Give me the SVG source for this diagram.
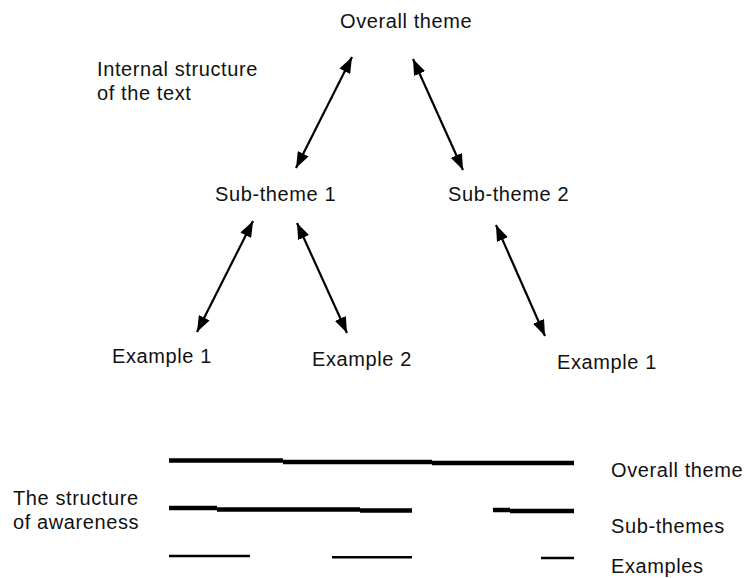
<svg xmlns="http://www.w3.org/2000/svg" width="744" height="578" viewBox="0 0 744 578">
<defs>
<style>
text{font-family:"Liberation Sans",Arial,sans-serif;font-size:20px;letter-spacing:0.6px;fill:#111}
.c{stroke:#000;stroke-width:2.2;fill:none;marker-start:url(#a);marker-end:url(#a)}
.thick{stroke:#000;stroke-width:4.5;fill:none}
.thin{stroke:#000;stroke-width:2.5;fill:none}
</style>
<marker id="a" viewBox="0 0 16 12" refX="16" refY="6" markerWidth="16" markerHeight="12" orient="auto-start-reverse" markerUnits="userSpaceOnUse"><path d="M0,0 L16,6 L0,12 z" fill="#000"/></marker>
</defs>
<g id="overall"><text x="340" y="28">Overall theme</text></g>
<g id="internal"><text x="97" y="76">Internal structure</text><text x="97" y="100">of the text</text></g>
<g id="sub1"><text x="215" y="201">Sub-theme 1</text></g>
<g id="sub2"><text x="448" y="201">Sub-theme 2</text></g>
<g id="ex1"><text x="112" y="363">Example 1</text></g>
<g id="ex2"><text x="312" y="366">Example 2</text></g>
<g id="ex3"><text x="557" y="369">Example 1</text></g>
<g id="connectors">
<line class="c" x1="352" y1="57" x2="296" y2="168"/>
<line class="c" x1="413" y1="59" x2="463" y2="170"/>
<line class="c" x1="253" y1="221" x2="197" y2="332"/>
<line class="c" x1="297" y1="223" x2="347" y2="333"/>
<line class="c" x1="496" y1="225" x2="545" y2="336"/>
</g>
<g id="awareness">
<text x="13" y="505">The structure</text>
<text x="13" y="529">of awareness</text>
<path class="thick" d="M169,460.5 H283 M283,462 H432 M432,463 H574"/>
<path class="thick" d="M169,508 H217 M217,509.5 H360 M360,510.5 H412"/>
<path class="thick" d="M493,510 H510 M510,511 H574"/>
<path class="thin" d="M169,556 H250 M332,557.3 H412 M541,558 H574"/>
<text x="611" y="477">Overall theme</text>
<text x="611" y="533">Sub-themes</text>
<text x="611" y="573">Examples</text>
</g>
</svg>
